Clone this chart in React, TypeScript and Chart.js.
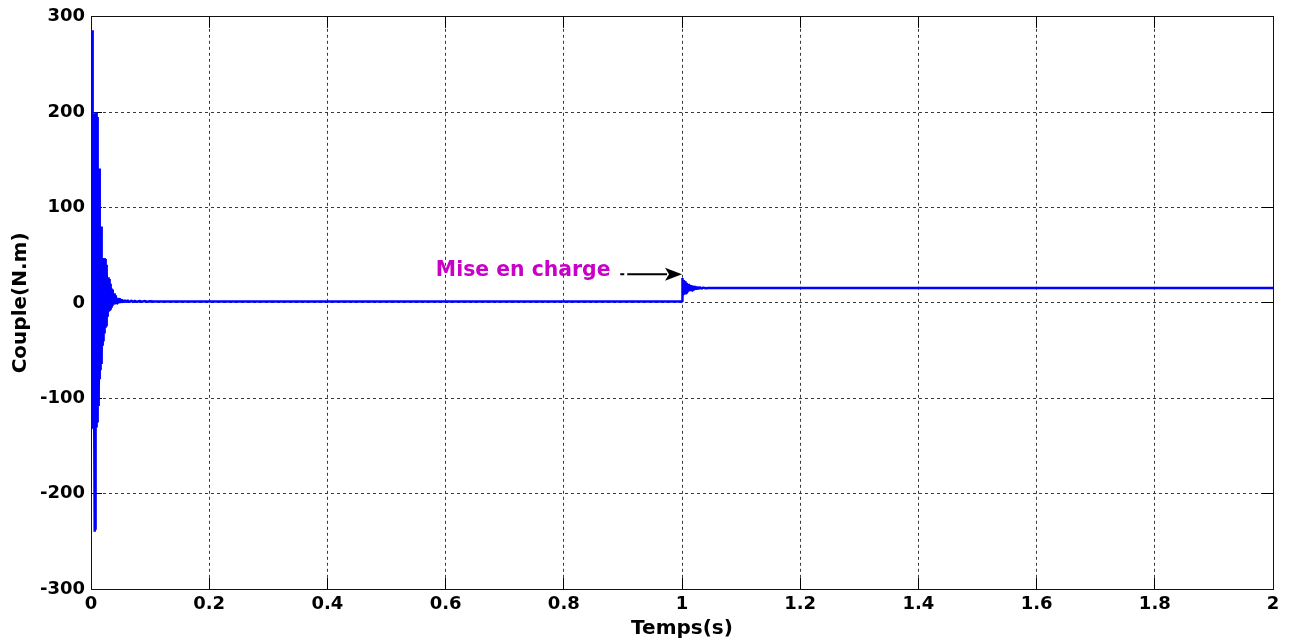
import React, { useEffect, useRef } from "react";
import { Chart, registerables } from "chart.js";

Chart.register(...registerables);

// ---- Axis ticks ----
const xTickValues = [0, 0.2, 0.4, 0.6, 0.8, 1, 1.2, 1.4, 1.6, 1.8, 2];
const yTickValues = [-300, -200, -100, 0, 100, 200, 300];

// ---- Start-up transient (time in s, torque in N.m) ----
const startupTime = [
  0, 0.0005, 0.001, 0.0015, 0.002, 0.0025, 0.003, 0.0035, 0.004, 0.0045,
  0.005, 0.0055, 0.006, 0.0065, 0.007, 0.0075, 0.008, 0.0085, 0.009, 0.0095,
  0.01, 0.0105, 0.011, 0.0115, 0.012, 0.0125, 0.013, 0.0135, 0.014, 0.0145,
  0.015, 0.0155, 0.016, 0.0165, 0.017, 0.0175, 0.018, 0.0185, 0.019, 0.0195,
  0.02, 0.0205, 0.021, 0.0215, 0.022, 0.0225, 0.023, 0.0235, 0.024, 0.0245,
  0.025, 0.0255, 0.026, 0.0265, 0.027, 0.0275, 0.028, 0.0285, 0.029, 0.0295,
  0.03, 0.0305, 0.031, 0.0315, 0.032, 0.0325, 0.033, 0.0335, 0.034, 0.0345,
  0.035, 0.0355, 0.036, 0.0365, 0.037, 0.038, 0.039, 0.04, 0.041, 0.042,
  0.043, 0.044, 0.045, 0.046, 0.048, 0.049, 0.051, 0.052, 0.054, 0.055,
  0.057, 0.059, 0.062, 0.065, 0.068, 0.071, 0.074, 0.078, 0.082, 0.086,
  0.09, 0.095, 0.1, 0.105, 0.11,
];
const startupTorque = [
  0, -130, 200, -128, 286, -130, 200, -130, 198, -132,
  150, -130, 150, -240, 148, -238, 200, -130, 198, -128,
  200, -125, 195, -100, 141, -108, 140, -106, 141, -80,
  80, -70, 78, -66, 80, -64, 47, -60, 46, -45,
  47, -40, 45, -38, 47, -32, 44, -28, 46, -26,
  42, -24, 40, -20, 35, -14, 27, -10, 26, -8,
  27, -8, 25, -8, 22, -7, 20, -6, 15, -5,
  15, -4, 14, -3, 12, -2, 10, -1.5, 8, -1,
  5.5, -0.5, 5, -0.3, 5, 0, 4, 0.3, 3, 0.5,
  3, 0.7, 2.6, 0.8, 2.4, 1, 2.2, 1.1, 2, 1.2,
  1.9, 1.3, 1.8, 1.4, 1.5,
];

// ---- Load application transient (no-load value 1.5 N.m before t = 1 s) ----
const loadTime = [
  1.0, 1.0008, 1.002, 1.0032, 1.0044, 1.0056, 1.0068, 1.008, 1.0092, 1.0104,
  1.0116, 1.0128, 1.014, 1.0155, 1.017, 1.0185, 1.02, 1.022, 1.024, 1.026,
  1.028, 1.03, 1.033, 1.036, 1.04, 1.045, 1.05,
];
const loadTorque = [
  1.5, 26, 9, 24, 9, 23, 10, 21, 11, 20,
  12, 19, 12.5, 18.5, 13, 18, 13.5, 17.5, 14, 17,
  14.5, 16.5, 15, 16, 15.3, 15.7, 15.5,
];
const loadedTorque = 15.5;
const endTime = 2;

// ---- Annotation ----
const annotationLabel = "Mise en charge";
const labelAnchor = { x: 0.879, y: 33.4 };
const arrowFrom = { x: 0.8955, y: 30 };
const arrowTo = { x: 1.0, y: 30 };

const FONT = '"DejaVu Sans", "Liberation Sans", Arial, sans-serif';

function buildPoints() {
  const pts: { x: number; y: number }[] = [];
  startupTime.forEach((t, i) => pts.push({ x: t, y: startupTorque[i] }));
  loadTime.forEach((t, i) => pts.push({ x: t, y: loadTorque[i] }));
  pts.push({ x: endTime, y: loadedTorque });
  return pts;
}

const framePlugin = {
  id: "matlabFrame",
  beforeDatasetsDraw(chart: any) {
    const { ctx, chartArea, scales } = chart;
    const { left, right, top, bottom } = chartArea;
    const xs = scales.x;
    const ys = scales.y;
    const L = 11;
    const al = (v: number) => Math.round(v - 0.5) + 0.5;
    ctx.save();
    ctx.setLineDash([]);
    ctx.strokeStyle = "#000";
    ctx.lineWidth = 1;
    ctx.beginPath();
    xTickValues.forEach((v) => {
      const px = al(xs.getPixelForValue(v));
      ctx.moveTo(px, bottom);
      ctx.lineTo(px, bottom - L);
      ctx.moveTo(px, top);
      ctx.lineTo(px, top + L);
    });
    yTickValues.forEach((v) => {
      const py = al(ys.getPixelForValue(v));
      ctx.moveTo(left, py);
      ctx.lineTo(left + L, py);
      ctx.moveTo(right, py);
      ctx.lineTo(right - L, py);
    });
    ctx.stroke();
    ctx.strokeStyle = "#111";
    ctx.strokeRect(al(left), al(top), al(right) - al(left), al(bottom) - al(top));
    ctx.restore();
  },
  afterDatasetsDraw(chart: any) {
    const { ctx, scales } = chart;
    const xs = scales.x;
    const ys = scales.y;
    ctx.save();
    ctx.font = `bold 20.4px ${FONT}`;
    ctx.fillStyle = "#c800c8";
    ctx.textAlign = "right";
    ctx.textBaseline = "middle";
    ctx.fillText(annotationLabel, xs.getPixelForValue(labelAnchor.x), ys.getPixelForValue(labelAnchor.y));
    const x0 = xs.getPixelForValue(arrowFrom.x);
    const x1 = xs.getPixelForValue(arrowTo.x);
    const yA = ys.getPixelForValue(arrowFrom.y);
    const head = 17;
    ctx.strokeStyle = "#000";
    ctx.fillStyle = "#000";
    ctx.lineWidth = 2;
    ctx.beginPath();
    ctx.moveTo(x0, yA);
    ctx.lineTo(x0 + 4, yA);
    ctx.moveTo(x0 + 7, yA);
    ctx.lineTo(x1 - head + 2, yA);
    ctx.stroke();
    ctx.beginPath();
    ctx.moveTo(x1, yA);
    ctx.lineTo(x1 - head, yA - 6.5);
    ctx.lineTo(x1 - head + 4, yA);
    ctx.lineTo(x1 - head, yA + 6.5);
    ctx.closePath();
    ctx.fill();
    ctx.restore();
  },
};

export default function App() {
  const canvasRef = useRef<HTMLCanvasElement | null>(null);

  useEffect(() => {
    document.body.style.margin = "0";
    const canvas = canvasRef.current;
    if (!canvas) return;
    const chart = new Chart(canvas, {
      type: "line",
      data: {
        datasets: [
          {
            data: buildPoints(),
            borderColor: "#0000ff",
            backgroundColor: "#0000ff",
            borderWidth: 2.5,
            pointRadius: 0,
            borderJoinStyle: "bevel",
            tension: 0,
            fill: false,
          },
        ],
      },
      options: {
        animation: false,
        responsive: false,
        devicePixelRatio: 1,
        layout: { padding: { top: 15, right: 21, left: 0, bottom: 0 } },
        plugins: {
          legend: { display: false },
          tooltip: { enabled: false },
        },
        scales: {
          x: {
            type: "linear",
            min: 0,
            max: 2,
            afterBuildTicks: (scale: any) => {
              scale.ticks = xTickValues.map((v) => ({ value: v }));
            },
            afterFit: (scale: any) => {
              scale.height = 54;
            },
            ticks: {
              padding: 5,
              color: "#000",
              font: { family: FONT, weight: "bold", size: 18 },
              maxRotation: 0,
              autoSkip: false,
              callback: (v: any) => String(+Number(v).toFixed(1)),
            },
            grid: { color: "#3a3a3a", lineWidth: 1, drawTicks: false },
            border: { display: false, dash: [3, 3] },
            title: {
              display: true,
              text: "Temps(s)",
              color: "#000",
              font: { family: FONT, weight: "bold", size: 20 },
              padding: { top: 2, bottom: 2 },
            },
          },
          y: {
            type: "linear",
            min: -300,
            max: 300,
            afterBuildTicks: (scale: any) => {
              scale.ticks = yTickValues.map((v) => ({ value: v }));
            },
            afterFit: (scale: any) => {
              scale.width = 91;
            },
            ticks: {
              padding: 6,
              color: "#000",
              font: { family: FONT, weight: "bold", size: 18 },
              autoSkip: false,
              callback: (v: any) => String(v),
            },
            grid: { color: "#3a3a3a", lineWidth: 1, drawTicks: false },
            border: { display: false, dash: [3, 3] },
            title: {
              display: true,
              text: "Couple(N.m)",
              color: "#000",
              font: { family: FONT, weight: "bold", size: 20 },
              padding: { top: 9, bottom: 9 },
            },
          },
        },
      },
      plugins: [framePlugin],
    } as any);
    return () => chart.destroy();
  }, []);

  return (
    <div style={{ position: "fixed", left: 0, top: 0, width: 1294, height: 643, background: "#fff" }}>
      <canvas ref={canvasRef} width={1294} height={643} style={{ display: "block" }} />
    </div>
  );
}
